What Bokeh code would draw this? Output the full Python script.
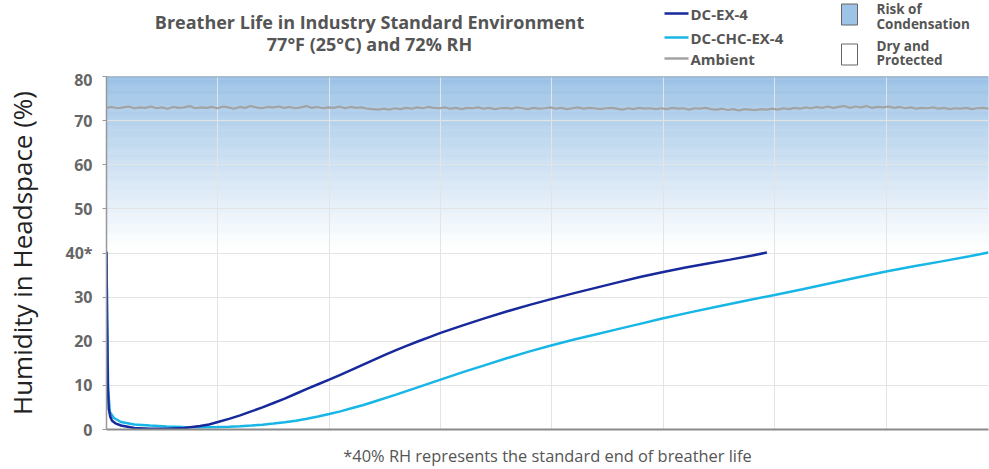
import numpy as np
from bokeh.plotting import figure
from bokeh.layouts import column
from bokeh.models import Range1d, FixedTicker, Span
from bokeh.core.properties import value
from bokeh.embed import file_html
from bokeh.resources import INLINE

FONT = "Open Sans"

# ---------------- data ----------------
ex4_x = [0, 0.005, 0.012, 0.02, 0.035, 0.05, 0.08, 0.13, 0.25, 0.39, 0.55, 0.7, 0.84,
         0.92, 1.0, 1.1, 1.2, 1.3, 1.4, 1.5, 1.6, 1.7, 1.8, 1.9, 2.0, 2.1, 2.2, 2.3,
         2.4, 2.5, 2.6, 2.7, 2.8, 2.9, 3.0, 3.2, 3.4, 3.6, 3.8, 4.0, 4.2, 4.4, 4.6,
         4.8, 5.0, 5.2, 5.4, 5.6, 5.8, 5.93]
ex4_y = [40.3, 25, 10, 4.7, 2.8, 2.0, 1.4, 0.9, 0.35, 0.15, 0.15, 0.35, 0.8,
         1.15, 1.7, 2.4, 3.2, 4.1, 5.0, 6.0, 7.0, 8.1, 9.2, 10.25, 11.3, 12.4, 13.5, 14.65,
         15.8, 16.9, 18.0, 19.0, 20.0, 20.95, 21.9, 23.6, 25.25, 26.8, 28.25, 29.6, 30.9, 32.15, 33.4,
         34.6, 35.7, 36.7, 37.6, 38.5, 39.45, 40.1]

chc_x = [0, 0.006, 0.015, 0.03, 0.066, 0.13, 0.25, 0.39, 0.54, 0.69, 0.84, 1.0, 1.1,
         1.2, 1.3, 1.4, 1.5, 1.6, 1.7, 1.8, 1.9, 2.0, 2.1, 2.2, 2.3, 2.4, 2.6, 2.8,
         3.0, 3.2, 3.4, 3.6, 3.8, 4.0, 4.2, 4.4, 4.6, 4.8, 5.0, 5.25, 5.5, 5.75, 6.0,
         6.25, 6.5, 6.75, 7.0, 7.25, 7.5, 7.75, 7.92]
chc_y = [40.3, 25, 9, 4.0, 2.6, 1.7, 1.15, 0.9, 0.7, 0.55, 0.5, 0.55, 0.63,
         0.75, 0.9, 1.1, 1.35, 1.65, 2.0, 2.45, 2.95, 3.5, 4.1, 4.8, 5.5, 6.3, 7.9, 9.6,
         11.3, 13.0, 14.6, 16.2, 17.7, 19.1, 20.4, 21.6, 22.8, 24.0, 25.2, 26.6, 27.95, 29.25, 30.5,
         31.8, 33.15, 34.5, 35.8, 37.0, 38.1, 39.25, 40.1]

ambient_y = [
    72.9, 73.1, 72.8, 73.0, 73.2, 72.8, 73.0, 72.9, 73.2, 72.8,
    73.0, 72.7, 73.1, 72.9, 73.0, 73.3, 72.8, 73.0, 72.9, 73.1,
    72.8, 73.2, 73.0, 72.7, 73.1, 72.9, 73.3, 73.0, 72.8, 73.1,
    73.0, 73.2, 72.9, 73.1, 72.8, 73.0, 73.3, 72.9, 73.1, 72.8,
    73.0, 72.9, 73.2, 72.8, 73.1, 72.9, 73.0, 72.7, 72.6, 72.5,
    72.7, 72.5, 72.8, 72.6, 72.9, 72.7, 73.0, 72.8, 73.1, 72.9,
    72.8, 73.0, 72.7, 72.9, 72.6, 72.9, 72.8, 73.0, 72.7, 72.9,
    72.6, 72.8, 72.9, 72.7, 73.0, 72.8, 72.6, 72.9, 72.7, 72.8,
    73.0, 72.7, 72.9, 72.6, 72.8, 73.0, 72.7, 72.9, 72.8, 72.6,
    72.8, 72.9, 72.7, 72.5, 72.8, 72.6, 72.9, 72.7, 72.8, 72.6,
    72.8, 72.6, 72.9, 72.7, 72.8, 72.5, 72.8, 72.7, 72.9, 72.6,
    72.5, 72.7, 72.4, 72.6, 72.3, 72.6, 72.5, 72.4, 72.6, 72.5,
    72.7, 72.5, 72.8, 72.6, 72.9, 72.7, 73.0, 72.8, 73.1, 72.9,
    73.2, 72.9, 73.1, 73.3, 72.9, 73.2, 73.0, 73.3, 72.9, 73.1,
    73.0, 73.2, 72.9, 73.1, 72.8, 73.0, 72.7, 72.9, 72.8, 73.0,
    72.7, 72.9, 72.6, 72.8, 72.7, 72.9, 72.6, 72.8, 72.9, 72.7,
]
ambient_start, ambient_end = 0.0, 7.92

y_ticks = [0, 10, 20, 30, 40, 50, 60, 70, 80]
y_tick_labels = {40: "40*"}
x_grid = [1, 2, 3, 4, 5, 6, 7]
x_max = 7.92
series_names = ["DC-EX-4", "DC-CHC-EX-4", "Ambient"]
box_labels = ["Risk of", "Condensation", "Dry and", "Protected"]
title_lines = ["Breather Life in Industry Standard Environment", "77\u00b0F (25\u00b0C) and 72% RH"]
footnote = "*40% RH represents the standard end of breather life"

# ---------------- styles ----------------
C_EX = "#18299b"
C_CHC = "#17b6e6"
C_AMB = "#a3a3a3"
C_TXT = "#555555"
TOP_RGB = (155, 194, 230)

W = 989
LEFT = 106
RIGHT = 1
HDR_H = 68
MAIN_H = 469 - HDR_H

# ---------------- header (title + legend), drawn in page pixel coordinates ----------------
hdr = figure(width=W, height=HDR_H, x_range=Range1d(LEFT, W - RIGHT),
             y_range=Range1d(HDR_H, 0), x_axis_type=None, y_axis_type=None,
             toolbar_location=None, output_backend="svg", min_border_left=LEFT,
             min_border_right=RIGHT, min_border_top=0, min_border_bottom=0,
             outline_line_color=None)
hdr.xgrid.visible = False
hdr.ygrid.visible = False

hdr.text(x=[369, 369], y=[21, 43], text=title_lines, text_align="center",
         text_baseline="middle", text_font=value(FONT), text_font_style="bold",
         text_font_size="18px", text_color=C_TXT)

leg_y = [13, 37, 58]
for yy, col in zip(leg_y, [C_EX, C_CHC, C_AMB]):
    hdr.segment(x0=664, y0=yy, x1=688, y1=yy, line_color=col, line_width=2.5)
hdr.text(x=[690] * 3, y=leg_y, text=series_names, text_align="left",
         text_baseline="middle", text_font=value(FONT), text_font_style="bold",
         text_font_size="15px", text_color=C_TXT)

hdr.quad(left=841, right=857, top=3.5, bottom=24.5, fill_color="#9dc3e6",
         line_color="#666666", line_width=1)
hdr.quad(left=841, right=857, top=43.5, bottom=64.5, fill_color="white",
         line_color="#666666", line_width=1)
hdr.text(x=[876] * 4, y=[8, 23, 45.5, 59], text=box_labels,
         text_align="left", text_baseline="middle", text_font=value(FONT),
         text_font_style="bold", text_font_size="13.5px", text_color=C_TXT)

# ---------------- main chart ----------------
p = figure(width=W, height=MAIN_H, x_range=Range1d(0, x_max), y_range=Range1d(0, 80),
           toolbar_location=None, output_backend="svg",
           min_border_left=LEFT, min_border_right=RIGHT, min_border_top=8,
           min_border_bottom=38, outline_line_color=None)

# gradient background (risk of condensation zone)
n = 160
bots = 40 + np.arange(n) * (40.0 / n)
tops = bots + 40.0 / n
cols = []
for b in bots:
    t = min(max((b + 20.0 / n - 41.0) / (80.0 - 41.0), 0.0), 1.0)
    r, g, bl = [int(round(255 * (1 - t) + c * t)) for c in TOP_RGB]
    cols.append("#%02x%02x%02x" % (r, g, bl))
p.quad(left=0, right=x_max, bottom=bots, top=tops, fill_color=cols, line_color=cols,
       line_width=0.6, level="image")

p.ygrid.ticker = FixedTicker(ticks=y_ticks)
p.xgrid.ticker = FixedTicker(ticks=x_grid)
p.ygrid.grid_line_color = "#e4e4e4"
p.xgrid.grid_line_color = "#e4e4e4"
p.ygrid.grid_line_width = 1
p.xgrid.grid_line_width = 1

amb_x = np.linspace(ambient_start, ambient_end, len(ambient_y))
p.line(amb_x, ambient_y, line_color=C_AMB, line_width=2.2)
p.line(chc_x, chc_y, line_color=C_CHC, line_width=2.5)
p.line(ex4_x, ex4_y, line_color=C_EX, line_width=2.5)

p.add_layout(Span(location=80, dimension="width", line_color="#8d97a3", line_width=1.5))

# axes
p.yaxis.ticker = FixedTicker(ticks=y_ticks)
p.yaxis.major_label_overrides = y_tick_labels
p.yaxis.minor_tick_line_color = None
p.yaxis.major_tick_in = 0
p.yaxis.major_tick_out = 4
p.yaxis.major_tick_line_color = "#999999"
p.yaxis.axis_line_color = "#999999"
p.yaxis.axis_line_width = 1.5
p.yaxis.major_label_standoff = 10
p.yaxis.major_label_text_font = FONT
p.yaxis.major_label_text_font_style = "bold"
p.yaxis.major_label_text_font_size = "16px"
p.yaxis.major_label_text_color = "#666666"
p.yaxis.axis_label = "Humidity in Headspace (%)"
p.yaxis.axis_label_text_font = FONT
p.yaxis.axis_label_text_font_style = "normal"
p.yaxis.axis_label_text_font_size = "26px"
p.yaxis.axis_label_text_color = "#222222"
p.yaxis.axis_label_standoff = 22

p.xaxis.ticker = FixedTicker(ticks=[])
p.xaxis.major_tick_line_color = None
p.xaxis.minor_tick_line_color = None
p.xaxis.major_label_standoff = 0
p.xaxis.axis_line_color = "#8a8a8a"
p.xaxis.axis_line_width = 2
p.xaxis.axis_label = footnote
p.xaxis.axis_label_text_font = FONT
p.xaxis.axis_label_text_font_style = "normal"
p.xaxis.axis_label_text_font_size = "16.4px"
p.xaxis.axis_label_text_color = C_TXT
p.xaxis.axis_label_standoff = 14

layout = column(hdr, p)
open("out.html", "w").write(file_html(layout, INLINE))
